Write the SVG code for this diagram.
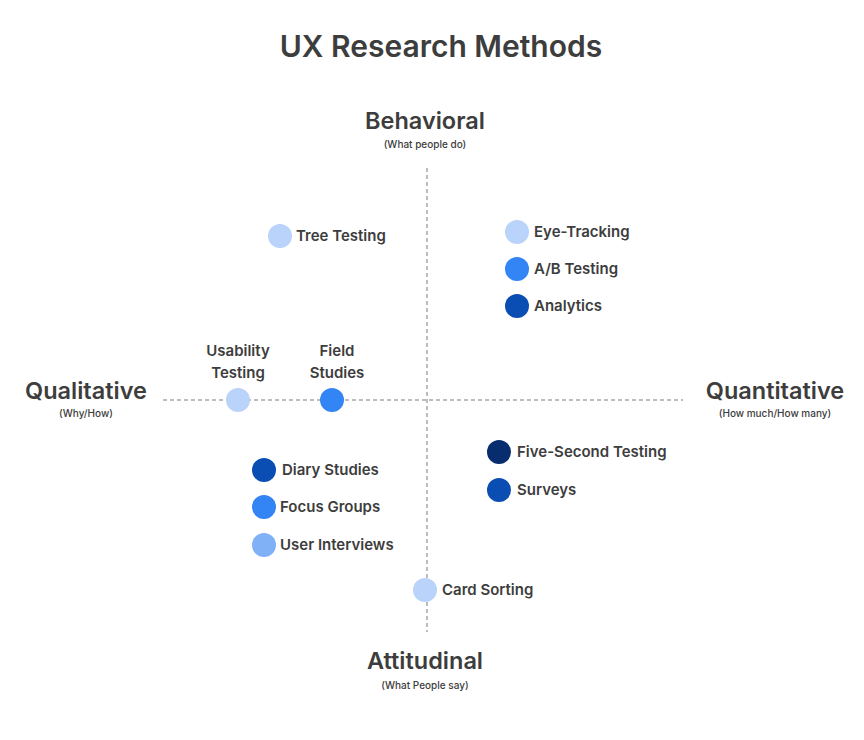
<svg xmlns="http://www.w3.org/2000/svg" width="864" height="740" viewBox="0 0 864 740">
<style>
text{font-family:Inter,"Noto Sans","Liberation Sans",sans-serif;fill:#3d3d3d}
.t{font-size:30px;font-weight:600}
.ax{font-size:23.5px;font-weight:600;text-anchor:middle}
.sub{font-size:10px;font-weight:500;text-anchor:middle}
.lb{font-size:15px;font-weight:600}
.lc{font-size:15px;font-weight:600;text-anchor:middle}
.axis{stroke:#a8a8a8;stroke-width:1.5;stroke-dasharray:4 3;fill:none}
.c1{fill:#b9d3fa}.c2{fill:#3385f5}.c3{fill:#0a4eb3}.c4{fill:#072d6e}.c5{fill:#80b1f7}
</style>
<rect width="864" height="740" fill="#fff"/>
<text class="t" x="441" y="57" text-anchor="middle">UX Research Methods</text>
<g id="axes">
<line class="axis" x1="163" y1="400" x2="683" y2="400"/>
<line class="axis" x1="427" y1="168" x2="427" y2="632"/>
</g>
<g id="axis-labels">
<text class="ax" x="425" y="129">Behavioral</text>
<text class="sub" x="425" y="148">(What people do)</text>
<text class="ax" x="86" y="399">Qualitative</text>
<text class="sub" x="86" y="417">(Why/How)</text>
<text class="ax" x="775" y="399">Quantitative</text>
<text class="sub" x="775" y="417">(How much/How many)</text>
<text class="ax" x="425" y="669">Attitudinal</text>
<text class="sub" x="425" y="689">(What People say)</text>
</g>
<g id="tree-testing"><circle class="c1" cx="280" cy="236" r="12"/><text class="lb" x="296" y="241">Tree Testing</text></g>
<g id="eye-tracking"><circle class="c1" cx="517" cy="232" r="12"/><text class="lb" x="534" y="237">Eye-Tracking</text></g>
<g id="ab-testing"><circle class="c2" cx="517" cy="269" r="12"/><text class="lb" x="534" y="274">A/B Testing</text></g>
<g id="analytics"><circle class="c3" cx="517" cy="306" r="12"/><text class="lb" x="534" y="311">Analytics</text></g>
<g id="usability-testing"><circle class="c1" cx="238" cy="400" r="12"/><text class="lc" x="238" y="356">Usability</text><text class="lc" x="238" y="378">Testing</text></g>
<g id="field-studies"><circle class="c2" cx="332" cy="400" r="12"/><text class="lc" x="337" y="356">Field</text><text class="lc" x="337" y="378">Studies</text></g>
<g id="diary-studies"><circle class="c3" cx="264" cy="470" r="12"/><text class="lb" x="282" y="475">Diary Studies</text></g>
<g id="focus-groups"><circle class="c2" cx="264" cy="507" r="12"/><text class="lb" x="280" y="512">Focus Groups</text></g>
<g id="user-interviews"><circle class="c5" cx="264" cy="545" r="12"/><text class="lb" x="280" y="550">User Interviews</text></g>
<g id="five-second-testing"><circle class="c4" cx="499" cy="452" r="12"/><text class="lb" x="517" y="457">Five-Second Testing</text></g>
<g id="surveys"><circle class="c3" cx="499" cy="490" r="12"/><text class="lb" x="517" y="495">Surveys</text></g>
<g id="card-sorting"><circle class="c1" cx="425" cy="590" r="12"/><text class="lb" x="442" y="595">Card Sorting</text></g>
</svg>
